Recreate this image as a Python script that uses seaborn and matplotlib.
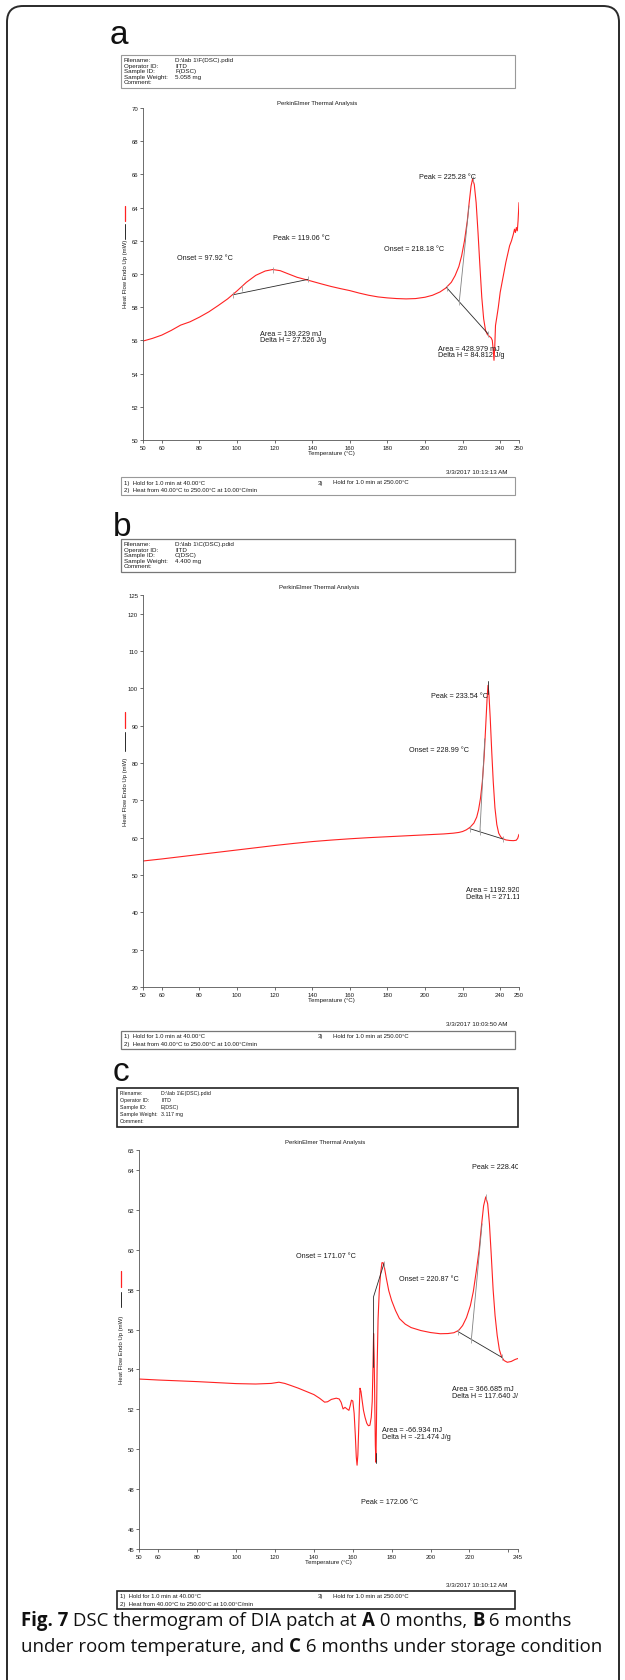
import matplotlib
matplotlib.use("Agg")
import pandas as pd
import matplotlib.pyplot as plt
from matplotlib.patches import Rectangle, FancyBboxPatch
import seaborn as sns

W, H, DPI = 625, 1681, 100
RED = "#ff2222"
DARK = "#2a2a2a"
GREY = "#a0a0a0"
TXT = "#1a1a1a"

# ---------------- panel a : 0 months ----------------
temp_a = [50, 55, 60, 65, 70, 75, 80, 85, 90, 95, 100, 105, 110, 115, 119, 123, 127, 132,
          138, 145, 150, 155, 160, 165, 170, 175, 180, 185, 190, 195, 200, 204, 208, 211,
          214, 216, 218, 219.5, 221, 222.5, 223.5, 224.5, 225.3, 226.2, 227.2, 228.2, 229.2,
          230.2, 231.2, 232.2, 233.2, 234.2, 235.2, 235.8, 236.3, 236.7, 237.1, 237.5, 238.2,
          239, 240, 241, 242, 243, 244, 245, 246, 247, 247.6, 248.1, 248.6, 249.1, 249.5, 250]
heat_a = [55.96, 56.12, 56.32, 56.6, 56.92, 57.12, 57.4, 57.72, 58.1, 58.5, 58.98, 59.5, 59.92,
          60.18, 60.27, 60.2, 60.02, 59.8, 59.62, 59.4, 59.25, 59.12, 59.0, 58.85, 58.72, 58.62,
          58.56, 58.52, 58.5, 58.52, 58.6, 58.72, 58.92, 59.15, 59.5, 59.9, 60.45, 61.1, 62.0,
          63.2, 64.3, 65.3, 65.72, 65.4, 64.3, 62.5, 60.5, 58.6, 57.3, 56.6, 56.35, 56.25, 56.15,
          56.0, 55.4, 54.8, 55.6, 56.9, 57.4, 58.0, 58.9, 59.5, 60.1, 60.7, 61.2, 61.7, 62.0,
          62.4, 62.7, 62.5, 62.8, 62.6, 63.2, 64.3]
yticks_a = [50, 52, 54, 56, 58, 60, 62, 64, 66, 68, 70]
xticks_ab = [50, 60, 80, 100, 120, 140, 160, 180, 200, 220, 240, 250]
base_a = [([98, 138], [58.75, 59.68]), ([211.5, 233.5], [59.18, 56.4])]
tangent_a = [([218.2, 223.4], [58.3, 64.1])]
marks_a = ([98, 102.5, 119, 138, 211.5, 218.2, 233.5, 225.3],
           [58.75, 59.15, 60.27, 59.68, 59.18, 58.3, 56.4, 65.7])
notes_a = [("Onset = 97.92 °C", 68.1, 61.0, False),
           ("Peak = 119.06 °C", 119.2, 62.2, False),
           ("Onset = 218.18 °C", 178.3, 61.53, False),
           ("Peak = 225.28 °C", 196.8, 65.9, False),
           ("Area = 139.229 mJ", 112.1, 56.4, False),
           ("Delta H = 27.526 J/g", 112.1, 56.06, False),
           ("Area = 428.979 mJ", 206.7, 55.5, False),
           ("Delta H = 84.812 J/g", 206.7, 55.13, False)]

# ---------------- panel b : 6 months room temperature ----------------
temp_b = [50, 60, 70, 80, 90, 100, 110, 120, 130, 140, 150, 160, 170, 180, 190, 200, 210, 215,
          218, 220, 222, 224, 226, 227.5, 228.5, 229.5, 230.5, 231.5, 232.3, 233, 233.5, 234,
          234.7, 235.5, 236.3, 237.2, 238.2, 239.2, 240.3, 241.5, 243, 245, 247, 248.5, 249.3, 250]
heat_b = [53.75, 54.3, 54.9, 55.5, 56.1, 56.7, 57.3, 57.9, 58.45, 58.95, 59.35, 59.7, 60.0, 60.25,
          60.5, 60.75, 61.0, 61.2, 61.4, 61.65, 62.1, 62.8, 63.9, 65.5, 67.5, 70.5, 75.0, 82.0,
          90.0, 97.0, 100.8, 98.5, 92.0, 83.0, 75.0, 68.0, 63.5, 61.2, 60.2, 59.7, 59.4, 59.25,
          59.2, 59.3, 59.8, 60.9]
yticks_b = [20, 30, 40, 50, 60, 70, 80, 90, 100, 110, 120, 125]
base_b = [([223.9, 241.7], [62.4, 59.6]), ([233.5, 233.5], [98.5, 102.0])]
tangent_b = [([229.2, 231.8], [61.55, 86.5])]
marks_b = ([223.9, 229.2, 241.7], [62.4, 61.55, 59.6])
notes_b = [("Peak = 233.54 °C", 203.2, 98.1, False),
           ("Onset = 228.99 °C", 191.6, 83.5, False),
           ("Area = 1192.920 mJ", 221.8, 46.0, True),
           ("Delta H = 271.118 J/g", 221.8, 44.2, True)]

# ---------------- panel c : 6 months storage condition ----------------
temp_c = [50, 60, 70, 80, 90, 100, 110, 118, 122, 125, 128, 132, 136, 140, 143, 145.5, 147,
          149, 151.5, 153, 154, 155, 156, 157, 158, 158.7, 159.3, 160, 160.7, 161.3, 161.8,
          162.2, 162.6, 163, 163.4, 163.7, 164.2, 164.8, 165.5, 166.3, 167.2, 168, 168.8,
          169.5, 170, 170.4, 170.7, 171, 171.3, 171.6, 171.9, 172.2, 172.5, 173, 173.6, 174.3,
          175, 175.6, 176.3, 177.2, 178.5, 180, 182, 184, 187, 190, 195, 200, 205, 209, 212,
          214.5, 216.5, 218.5, 220.5, 222, 223.5, 225, 226.2, 227.3, 228.4, 229.4, 230.3,
          231.2, 232.2, 233.2, 234.3, 235.4, 236.5, 237.8, 239.5, 241.5, 243.5, 245]
heat_c = [53.52, 53.47, 53.43, 53.39, 53.34, 53.29, 53.27, 53.3, 53.36, 53.3, 53.2, 53.06,
          52.9, 52.74, 52.55, 52.36, 52.38, 52.5, 52.56, 52.52, 52.35, 52.02, 52.1, 52.02,
          51.95, 52.2, 52.46, 52.42, 51.8, 50.7, 49.6, 49.2, 49.7, 50.9, 52.2, 53.06, 52.9,
          52.45, 51.95, 51.6, 51.3, 51.18, 51.2, 51.6, 52.4, 54.2, 55.8, 54.6, 52.4, 50.2,
          49.35, 51.5, 54.0, 56.5, 57.9, 58.8, 59.35, 59.35, 59.1, 58.6, 57.95, 57.45, 56.95,
          56.55, 56.27, 56.1, 55.95, 55.85, 55.79, 55.8, 55.84, 55.96, 56.2, 56.6, 57.2, 57.9,
          58.9, 60.0, 61.2, 62.2, 62.65, 62.3, 61.3, 59.8, 58.0, 56.7, 55.7, 55.0, 54.65,
          54.45, 54.36, 54.4, 54.5, 54.55]
yticks_c = [45, 46, 48, 50, 52, 54, 56, 58, 60, 62, 64, 65]
xticks_c = [50, 60, 80, 100, 120, 140, 160, 180, 200, 220, 240, 245]
base_c = [([170.7, 170.7, 176], [54.1, 57.65, 59.3]), ([171.8, 171.8], [49.3, 49.8]),
          ([214.1, 236.8], [55.9, 54.6])]
tangent_c = [([221, 226.5], [55.5, 61.3])]
marks_c = ([176, 214.1, 221, 236.8, 228.4], [59.3, 55.9, 55.5, 54.6, 62.65])
notes_c = [("Onset = 171.07 °C", 131, 59.7, False),
           ("Onset = 220.87 °C", 183.8, 58.58, False),
           ("Peak = 228.40 °C", 221.3, 64.15, True),
           ("Area = 366.685 mJ", 211.2, 53.07, True),
           ("Delta H = 117.640 J/g", 211.2, 52.69, True),
           ("Area = -66.934 mJ", 175, 50.99, False),
           ("Delta H = -21.474 J/g", 175, 50.64, False),
           ("Peak = 172.06 °C", 164, 47.4, False)]

header_keys = ["Filename:", "Operator ID:", "Sample ID:", "Sample Weight:", "Comment:"]
header_a = ["D:\\lab 1\\F(DSC).pdid", "IITD", "F(DSC)", "5.058 mg", ""]
header_b = ["D:\\lab 1\\C(DSC).pdid", "IITD", "C(DSC)", "4.400 mg", ""]
header_c = ["D:\\lab 1\\E(DSC).pdid", "IITD", "E(DSC)", "3.117 mg", ""]
dates = ["3/3/2017 10:13:13 AM", "3/3/2017 10:03:50 AM", "3/3/2017 10:10:12 AM"]

caption_1 = [("Fig. 7", True), (" DSC thermogram of DIA patch at ", False), ("A", True),
             (" 0 months, ", False), ("B", True), (" 6 months", False)]
caption_2 = [("under room temperature, and ", False), ("C", True),
             (" 6 months under storage condition", False)]


def frac(x0, y0, x1, y1):
    return [x0 / W, 1 - y1 / H, (x1 - x0) / W, (y1 - y0) / H]


def draw_panel(fig, box, temp, heat, xlim, ylim, xticks, xlabels, yticks,
               base, tangent, marks, notes):
    ax = fig.add_axes(frac(*box))
    df = pd.DataFrame({"Temperature": temp, "HeatFlow": heat})
    sns.lineplot(data=df, x="Temperature", y="HeatFlow", ax=ax, color=RED,
                 linewidth=0.8, sort=False, estimator=None)
    for xs, ys in base:
        ax.plot(xs, ys, color=DARK, lw=0.6)
    for xs, ys in tangent:
        ax.plot(xs, ys, color="#808080", lw=0.6)
    ax.plot(marks[0], marks[1], ls="none", marker="|", ms=4, mew=0.6, color=GREY)
    for txt, x, y, clip in notes:
        ax.text(x, y, txt, fontsize=5.2, ha="left", va="center", color=TXT, clip_on=clip)
    ax.set_xlim(*xlim)
    ax.set_ylim(*ylim)
    ax.set_xticks(xticks)
    ax.set_xticklabels(xlabels)
    ax.set_yticks(yticks)
    ax.set_yticklabels([str(v) for v in yticks])
    ax.tick_params(labelsize=4.3, length=2.3, width=0.5, pad=1.2, colors="#333",
                   labelcolor=TXT)
    ax.set_xlabel("Temperature (°C)", fontsize=4.4, labelpad=0.3, color=TXT)
    ax.set_ylabel("")
    sns.despine(ax=ax)
    for s in ["left", "bottom"]:
        ax.spines[s].set_linewidth(0.6)
        ax.spines[s].set_color("#555")
    ax.set_facecolor("none")
    return ax


def draw_header(ov, box, values, fs, ec, lw, key_x, val_x, step):
    x0, y0, x1, y1 = box
    ov.add_patch(Rectangle((x0, y0), x1 - x0, y1 - y0, fill=False, ec=ec, lw=lw))
    for i, (key, val) in enumerate(zip(header_keys, values)):
        y = y0 + 4.5 + i * step
        ov.text(key_x, y, key, fontsize=fs, va="center", color=TXT)
        ov.text(val_x, y, val, fontsize=fs, va="center", color=TXT)


def draw_footer(ov, box, date, date_y, ec, lw):
    x0, y0, x1, y1 = box
    ov.add_patch(Rectangle((x0, y0), x1 - x0, y1 - y0, fill=False, ec=ec, lw=lw))
    fs = 4.3
    ov.text(508, date_y, date, fontsize=4.5, ha="right", va="center", color=TXT)
    ov.text(x0 + 3, y0 + 5, "1)  Hold for 1.0 min at 40.00°C", fontsize=fs, va="center", color=TXT)
    ov.text(318, y0 + 5, "3)", fontsize=fs, va="center", color=TXT)
    ov.text(333, y0 + 5, "Hold for 1.0 min at 250.00°C", fontsize=fs, va="center", color=TXT)
    ov.text(x0 + 3, y0 + 12.5, "2)  Heat from 40.00°C to 250.00°C at 10.00°C/min",
            fontsize=fs, va="center", color=TXT)


def draw_ylabel(ov, x, yc, red_span, black_span):
    ov.text(x, yc, "Heat Flow Endo Up (mW)", rotation=90, fontsize=4.3,
            ha="center", va="center", color=TXT)
    ov.plot([x, x], red_span, color=RED, lw=0.9)
    ov.plot([x, x], black_span, color=DARK, lw=0.7)


def caption_line(fig, ov, pieces, x, y, fs):
    renderer = fig.canvas.get_renderer()
    for txt, bold in pieces:
        t = ov.text(x, y, txt, fontsize=fs, fontweight="bold" if bold else "normal",
                    family=["Open Sans", "DejaVu Sans"], va="center", ha="left", color="#111")
        x += t.get_window_extent(renderer).width


def main():
    sns.set_style("ticks")
    plt.rcParams["font.family"] = ["Liberation Sans", "DejaVu Sans"]
    fig = plt.figure(figsize=(W / DPI, H / DPI), dpi=DPI)
    fig.patch.set_facecolor("white")

    draw_panel(fig, (143, 109, 519, 441), temp_a, heat_a, (50, 250), (50, 70),
               xticks_ab, [str(v) for v in xticks_ab], yticks_a,
               base_a, tangent_a, marks_a, notes_a)
    draw_panel(fig, (143, 596, 519, 988), temp_b, heat_b, (50, 250), (20, 125),
               xticks_ab, [str(v) for v in xticks_ab], yticks_b,
               base_b, tangent_b, marks_b, notes_b)
    draw_panel(fig, (139, 1151, 518, 1550), temp_c, heat_c, (50, 245), (45, 65),
               xticks_c, ["" if v == 240 else str(v) for v in xticks_c], yticks_c,
               base_c, tangent_c, marks_c, notes_c)

    ov = fig.add_axes([0, 0, 1, 1], zorder=5)
    ov.set_xlim(0, W)
    ov.set_ylim(H, 0)
    ov.axis("off")

    ov.add_patch(FancyBboxPatch((7, 7), 612, 1740, boxstyle="round,pad=0,rounding_size=16",
                                fill=False, ec="#2a2a2a", lw=1.4))

    for letter, x, y in [("a", 110, 44), ("b", 113, 536), ("c", 113, 1081)]:
        ov.text(x, y, letter, fontsize=24, va="baseline", ha="left", color="#111")

    draw_header(ov, (121, 56, 515, 89), header_a, 4.5, "#999", 0.8, 124, 175, 5.6)
    draw_header(ov, (121, 540, 515, 573), header_b, 4.5, "#777", 0.9, 124, 175, 5.6)
    draw_header(ov, (117, 1089, 518, 1128), header_c, 3.8, "#222", 1.2, 120, 161, 7.0)

    for x, y in [(317, 103), (319, 588), (325, 1143)]:
        ov.text(x, y, "PerkinElmer Thermal Analysis", fontsize=4.3, ha="center",
                va="center", color=TXT)

    draw_ylabel(ov, 125, 274, [207, 222], [225, 240])
    draw_ylabel(ov, 125, 792, [713, 729], [733, 752])
    draw_ylabel(ov, 121, 1350, [1272, 1288], [1293, 1308])

    draw_footer(ov, (121, 478, 515, 496), dates[0], 473, "#999", 0.8)
    draw_footer(ov, (121, 1032, 515, 1050), dates[1], 1025, "#777", 0.9)
    draw_footer(ov, (117, 1592, 515, 1610), dates[2], 1586, "#222", 1.2)

    caption_line(fig, ov, caption_1, 21, 1621, 13.4)
    caption_line(fig, ov, caption_2, 21, 1647, 13.4)

    fig.savefig("out.png", dpi=DPI)
    plt.close(fig)


if __name__ == "__main__":
    main()
